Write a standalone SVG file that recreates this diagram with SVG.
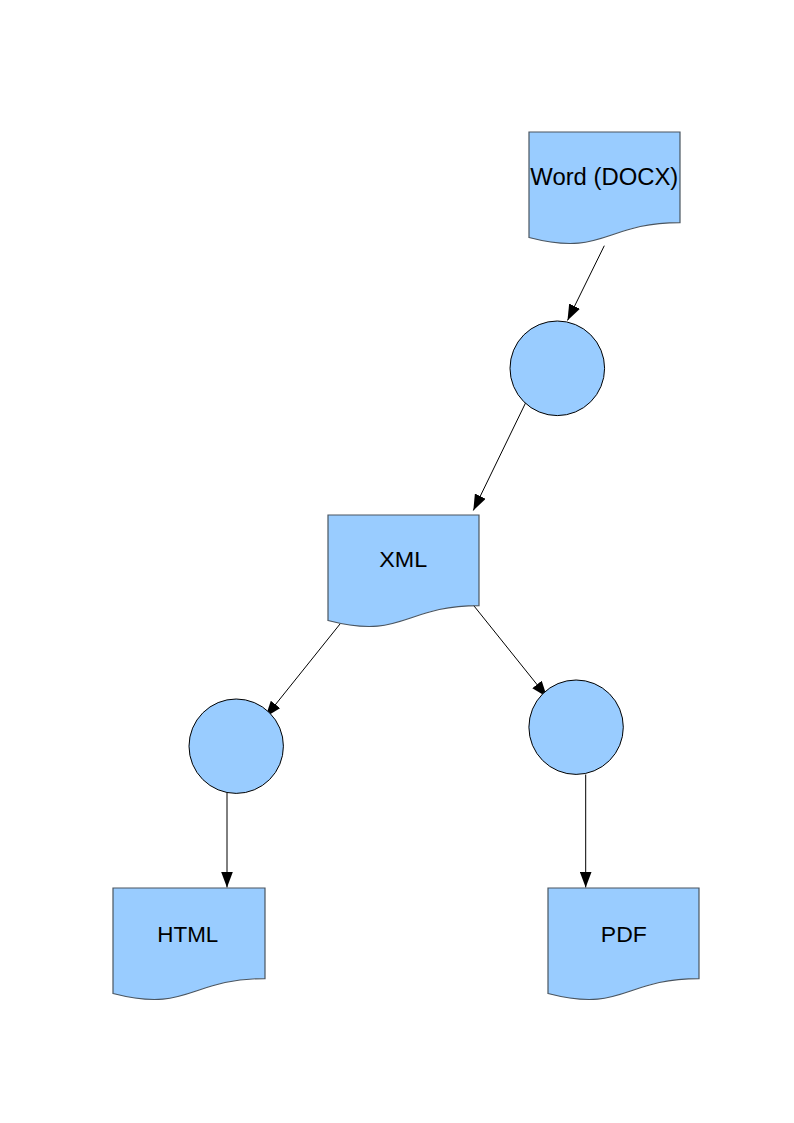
<svg xmlns="http://www.w3.org/2000/svg" width="794" height="1123" viewBox="0 0 794 1123">
<style>
.doc{fill:#99ccff;stroke:#4a5560;stroke-width:1.2}
.proc{fill:#99ccff;stroke:#000;stroke-width:1}
.lbl{font-family:"Liberation Sans",Arial,sans-serif;font-size:22px;fill:#000;text-anchor:middle}
.edge{stroke:#000;stroke-width:1;fill:none;marker-end:url(#arr)}
</style>
<defs>
<marker id="arr" markerUnits="userSpaceOnUse" markerWidth="16" markerHeight="12" refX="16" refY="6" orient="auto">
<path d="M0,0 L16,6 L0,12 Z" fill="#000"/>
</marker>
</defs>
<rect width="794" height="1123" fill="#fff"/>
<g id="connectors">
<line class="edge" x1="604.3" y1="245.7" x2="567.5" y2="320.5"/>
<line class="edge" x1="528.3" y1="397.3" x2="473.3" y2="510.5"/>
<line class="edge" x1="340" y1="624" x2="265.5" y2="717"/>
<line class="edge" x1="472.7" y1="604.3" x2="547" y2="697"/>
<line class="edge" x1="227" y1="793" x2="227" y2="887.5"/>
<line class="edge" x1="585.7" y1="774.5" x2="585.7" y2="887.5"/>
</g>
<g id="word">
<path class="doc" d="M529,132 H680 V222.6 C604.5,222.6 604.5,257.1 529,237.5 Z"/>
<text class="lbl" x="604.3" y="184.8" style="font-size:23px" textLength="148" lengthAdjust="spacingAndGlyphs">Word (DOCX)</text>
</g>
<g id="proc1">
<circle class="proc" cx="557.3" cy="368.3" r="47.3"/>
</g>
<g id="xml">
<path class="doc" d="M328,515 H479 V605.6 C403.5,605.6 403.5,640.1 328,620.5 Z"/>
<text class="lbl" x="403.2" y="567" textLength="48" lengthAdjust="spacingAndGlyphs">XML</text>
</g>
<g id="proc2">
<circle class="proc" cx="236.2" cy="746.2" r="47.2"/>
</g>
<g id="proc3">
<circle class="proc" cx="576.1" cy="727.2" r="47.2"/>
</g>
<g id="html">
<path class="doc" d="M113,888 H265 V978.6 C189,978.6 189,1013.1 113,993.5 Z"/>
<text class="lbl" x="187.8" y="942" textLength="61" lengthAdjust="spacingAndGlyphs">HTML</text>
</g>
<g id="pdf">
<path class="doc" d="M548,888 H699 V978.6 C623.5,978.6 623.5,1013.1 548,993.5 Z"/>
<text class="lbl" x="623.8" y="942" textLength="46" lengthAdjust="spacingAndGlyphs">PDF</text>
</g>
</svg>
